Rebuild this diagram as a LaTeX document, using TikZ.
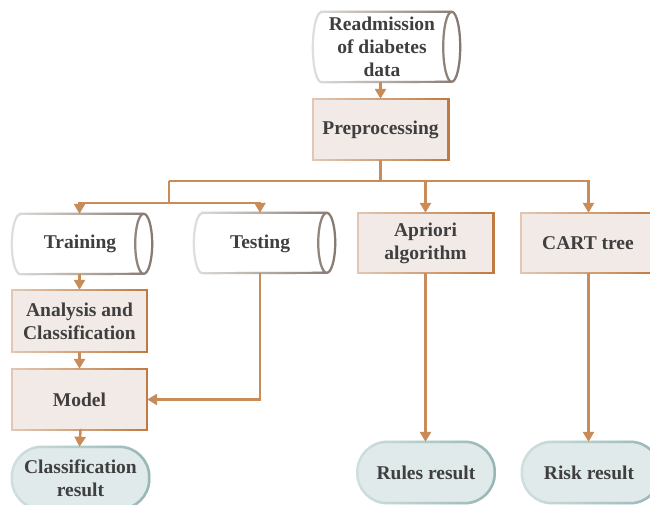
\documentclass[tikz,border=0pt]{standalone}
\usepackage{fontspec}
\setmainfont{Liberation Serif}
\usetikzlibrary{arrows.meta,fadings,calc}
\definecolor{arrc}{HTML}{C98B58}
\definecolor{txtc}{HTML}{3F3F3F}
\definecolor{boxfill}{HTML}{F2EAE7}
\definecolor{boxlight}{HTML}{E4C8B4}
\definecolor{boxdark}{HTML}{C07A40}
\definecolor{resfill}{HTML}{E0EAEA}
\definecolor{reslight}{HTML}{D0E0E0}
\definecolor{resdark}{HTML}{98B6B6}
\definecolor{cyllight}{HTML}{E2DFDC}
\definecolor{cyldark}{HTML}{857870}
\tikzset{
  lbl/.style={inner sep=0pt, align=center, text=txtc,
    font=\fontsize{19.5}{23}\selectfont\bfseries},
  procbox/.style={lbl, minimum width=135pt},
  resbox/.style={lbl, minimum width=137pt, minimum height=61pt},
  cylbox/.style={lbl, minimum height=60pt},
  conn/.style={draw=arrc, line width=2.5pt},
  arr/.style={conn, -{Triangle[length=10pt,width=11pt]}},
}
\newcommand\gradbox[4]{% node, fill, light, dark
  \fill[#2] (#1.north west) rectangle (#1.south east);
  \draw[#3, line width=2.5pt] (#1.north west) rectangle (#1.south east);
  \draw[#4, line width=2.5pt, path fading=west] (#1.north west) rectangle (#1.south east);
}
\newcommand\gradstad[1]{%
  \fill[resfill, rounded corners=30pt] (#1.north west) rectangle (#1.south east);
  \draw[reslight, line width=2.5pt, rounded corners=30pt] (#1.north west) rectangle (#1.south east);
  \draw[resdark, line width=2.5pt, rounded corners=30pt, path fading=west] (#1.north west) rectangle (#1.south east);
}
\newcommand\cylpath[2]{% node, half height
  (#1.north west) -- (#1.north east)
  arc[start angle=90, end angle=-90, x radius=8.5pt, y radius=#2]
  -- (#1.south west)
  arc[start angle=270, end angle=90, x radius=8.5pt, y radius=#2] -- cycle
  (#1.north east) arc[start angle=90, end angle=270, x radius=8.5pt, y radius=#2]
}
\newcommand\gradcyl[2]{%
  \fill[white] \cylpath{#1}{#2};
  \draw[cyllight, line width=2.2pt] \cylpath{#1}{#2};
  \draw[cyldark, line width=2.2pt, path fading=west] \cylpath{#1}{#2};
}
\begin{document}
\begin{tikzpicture}[x=1pt,y=1pt]
\useasboundingbox (0,0) rectangle (650,-504);
% nodes (geometry)
\node[cylbox, minimum width=130pt, minimum height=70pt] (readm) at (386.5,-47) {};
\node[procbox, minimum height=61pt] (prep) at (380.5,-129.5) {};
\node[cylbox, minimum width=123pt] (train) at (82,-244) {};
\node[cylbox, minimum width=124pt] (test) at (264.5,-243) {};
\node[procbox, minimum height=60pt] (apri) at (425.5,-243) {};
\node[procbox, minimum height=60pt] (cart) at (588.5,-243) {};
\node[procbox, minimum height=62pt] (anal) at (79.5,-321) {};
\node[procbox, minimum height=61pt] (model) at (79.5,-399.5) {};
\node[resbox, minimum height=62pt] (cres) at (80.5,-478) {};
\node[resbox] (rres) at (426,-472.5) {};
\node[resbox, minimum width=138pt] (kres) at (591,-472.5) {};
% shapes
\gradcyl{readm}{35pt}
\gradbox{prep}{boxfill}{boxlight}{boxdark}
\gradcyl{train}{30pt}
\gradcyl{test}{30pt}
\gradbox{apri}{boxfill}{boxlight}{boxdark}
\gradbox{cart}{boxfill}{boxlight}{boxdark}
\gradbox{anal}{boxfill}{boxlight}{boxdark}
\gradbox{model}{boxfill}{boxlight}{boxdark}
\gradstad{cres}
\gradstad{rres}
\gradstad{kres}
% labels
\node[lbl] (treadm) at (382,-47) {Readmission\\of diabetes\\data};
\node[lbl] (tprep) at (prep) {Preprocessing};
\node[lbl] (ttrain) at (80,-244) {Training};
\node[lbl] (ttest) at (260,-244) {Testing};
\node[lbl] (tapri) at (apri) {Apriori\\algorithm};
\node[lbl] (tcart) at (588,-243) {CART tree};
\node[lbl] (tanal) at (anal) {Analysis and\\Classification};
\node[lbl] (tmodel) at (model) {Model};
\node[lbl] (tcres) at (cres) {Classification\\result};
\node[lbl] (trres) at (rres) {Rules result};
\node[lbl] (tkres) at (589,-472.5) {Risk result};
% connectors
\coordinate (b1) at (169,-181);
\coordinate (b2) at (169,-203);
\coordinate (tx) at (260,-203);
\draw[arr] (readm.south -| prep.north) -- (prep.north);
\draw[conn] (prep.south) -- (prep.south |- b1);
\draw[conn] (b1) -- (b2);
\draw[arr] (b1) -| (cart.north);
\draw[arr] (b1 -| apri.north) -- (apri.north);
\draw[arr] (b2) -- (b2 -| anal.north) -- (anal.north |- train.north);
\draw[arr] (b2) -- (tx) -- (tx |- test.north);
\draw[arr] (anal.north |- train.south) -- (anal.north);
\draw[arr] (anal.south) -- (model.north);
\draw[arr] (model.south) -- (model.south -| cres.north) -- (cres.north -| model.south);
\draw[arr] (tx |- test.south) |- (model.east);
\draw[arr] (apri.south) -- (apri.south |- rres.north);
\draw[arr] (cart.south) -- (cart.south |- kres.north);
\end{tikzpicture}
\end{document}
